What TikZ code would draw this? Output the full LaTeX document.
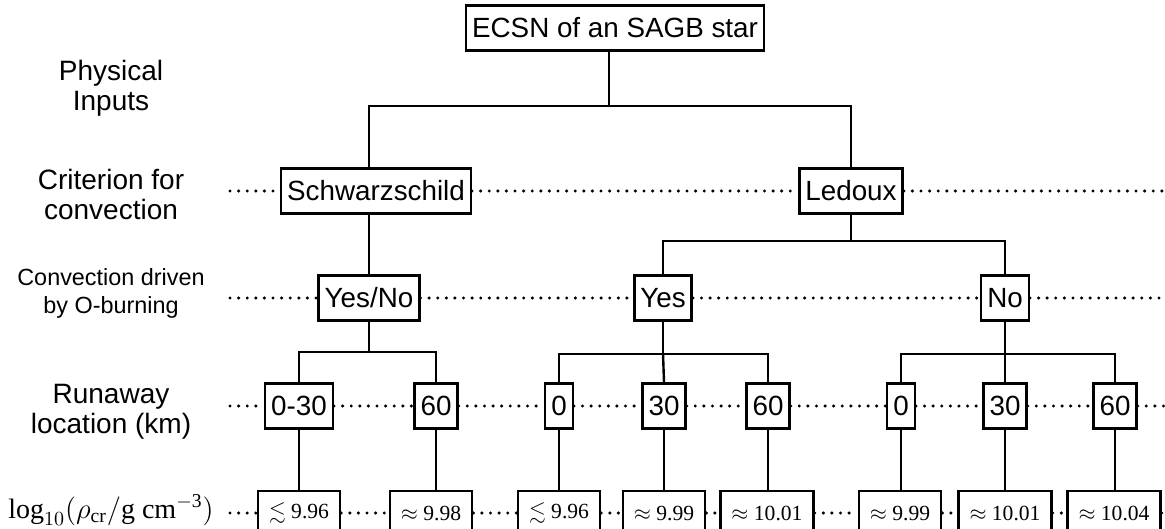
\documentclass[tikz,border=0pt]{standalone}
\usepackage{amsmath}
\usepackage{amssymb}
\usepackage{fontspec}
\setmainfont{Liberation Serif}
\setsansfont{Liberation Sans}
\usetikzlibrary{positioning}

\tikzset{
  box/.style={draw, line width=1.2pt, fill=white, inner xsep=3pt, inner ysep=0pt,
    minimum height=22.5pt, font=\sffamily\fontsize{13.9}{16}\selectfont},
  valbox/.style={draw, line width=1.2pt, fill=white, inner xsep=5.5pt, inner ysep=0pt,
    minimum height=22pt, font=\fontsize{10.8}{12}\selectfont},
  tree/.style={line width=1.2pt},
  dotrow/.style={line width=1.7pt, line cap=round, dash pattern=on 0pt off 4.3pt},
  rowlabel/.style={align=center, font=\sffamily\fontsize{14}{15}\selectfont}
}

\begin{document}
\begin{tikzpicture}[x=0.5pt, y=-0.5pt]
    \clip (0,0) rectangle (1165,529);

    % Row labels
    \node[rowlabel] (phys) at (111,88) {Physical\\Inputs};
    \node[rowlabel] (crit) at (111,194) {Criterion for\\convection};
    \node[rowlabel, font=\sffamily\fontsize{11.7}{14}\selectfont] (drive) at (111,293) {Convection driven\\by O-burning};
    \node[rowlabel] (runaway) at (111,412) {Runaway\\location (km)};
    \node[anchor=base, font=\fontsize{14}{16}\selectfont] (logrho) at (111,518) {$\log_{10}(\rho_{\mathrm{cr}}/\mathrm{g\ cm^{-3}})$};

    % Tree nodes
    \node[box] (ecsn) at (615,28) {ECSN of an SAGB star};
    \node[box] (schw) at (376,191) {Schwarzschild};
    \node[box] (led) at (851,191) {Ledoux};
    \node[box] (yn) at (369,298) {Yes/No};
    \node[box] (yes) at (663,298) {Yes};
    \node[box] (no) at (1005,298) {No};

    \node[box] (r1) at (299,406) {0-30};
    \node[box] (r2) at (436,406) {60};
    \node[box] (r3) at (559,406) {0};
    \node[box] (r4) at (664,406) {30};
    \node[box] (r5) at (768,406) {60};
    \node[box] (r6) at (901,406) {0};
    \node[box] (r7) at (1005,406) {30};
    \node[box] (r8) at (1115,406) {60};

    % Densities
    \node[valbox] (b1) at (299,513) {$\lesssim$ 9.96};
    \node[valbox] (b2) at (431,513) {$\approx$ 9.98};
    \node[valbox] (b3) at (559,513) {$\lesssim$ 9.96};
    \node[valbox] (b4) at (664,513) {$\approx$ 9.99};
    \node[valbox] (b5) at (767,513) {$\approx$ 10.01};
    \node[valbox] (b6) at (900,513) {$\approx$ 9.99};
    \node[valbox] (b7) at (1005,513) {$\approx$ 10.01};
    \node[valbox] (b8) at (1114,513) {$\approx$ 10.04};

    % Branches
    \coordinate (bus0) at (609,106);
    \draw[tree] (ecsn.south -| bus0) -- (bus0);
    \draw[tree] (schw.north -| yn.north) |- (bus0) -| (led.north);
    \draw[tree] (schw.south -| yn.north) -- (yn.north);
    \draw[tree] (led.south) -- ++(0,26) coordinate (bus1) -| (yes.north);
    \draw[tree] (bus1) -| (no.north);
    \draw[tree] (yn.south) -- ++(0,30) coordinate (bus2) -| (r1.north);
    \draw[tree] (bus2) -| (r2.north);
    \draw[tree] (yes.south) -- ++(0,32) coordinate (bus3) -| (r3.north);
    \draw[tree] (bus3) -| (r5.north);
    \draw[tree] (bus3) -- (r4.north);
    \draw[tree] (no.south) -- ++(0,32) coordinate (bus4) -| (r6.north);
    \draw[tree] (bus4) -| (r8.north);
    \draw[tree] (bus4) -- (r7.north);
    \foreach \i in {1,...,8}
      \draw[tree] (r\i.south) -- (r\i.south |- b\i.north);

    % Dotted rows
    \coordinate (c1l) at (230,191);
    \coordinate (c1r) at (1165,191);
    \coordinate (c2l) at (230,298);
    \coordinate (c2r) at (1165,298);
    \coordinate (c3l) at (230,406);
    \coordinate (c3r) at (1165,406);
    \coordinate (c4l) at (230,513);
    \coordinate (c4r) at (1165,513);
    \draw[dotrow] (c1l) -- (schw) -- (led) -- (c1r);
    \draw[dotrow] (c2l) -- (yn) -- (yes) -- (no) -- (c2r);
    \draw[dotrow] (c3l) -- (r1) -- (r2) -- (r3) -- (r4) -- (r5) -- (r6) -- (r7) -- (r8) -- (c3r);
    \draw[dotrow] (c4l) -- (b1) -- (b2) -- (b3) -- (b4) -- (b5) -- (b6) -- (b7) -- (b8) -- (c4r);
\end{tikzpicture}
\end{document}
